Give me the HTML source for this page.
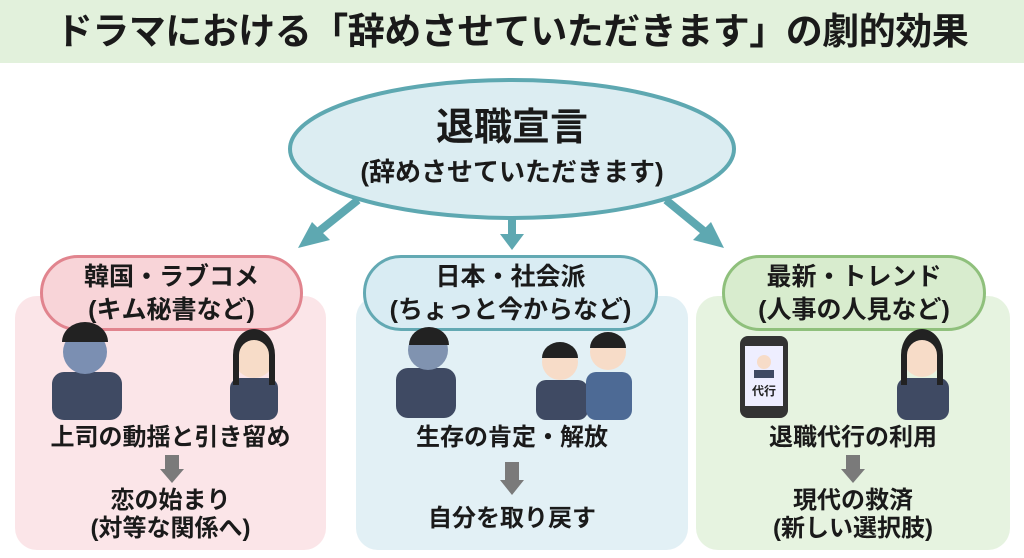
<!DOCTYPE html>
<html><head><meta charset="utf-8"><style>
*{margin:0;padding:0;box-sizing:border-box}
body{width:1024px;height:558px;background:#fff;position:relative;overflow:hidden;font-family:"Liberation Sans","Noto Sans CJK JP",sans-serif;font-weight:bold;color:#1a1a1a}
.hdr{position:absolute;left:0;top:0;width:1024px;height:63px;background:#e2f1dc;text-align:center;font-size:37px;line-height:63px;letter-spacing:-0.5px;white-space:nowrap}
.ab{position:absolute}
.panel{position:absolute;top:296px;height:254px;border-radius:22px}
.pill{position:absolute;top:255px;height:76px;border-radius:38px;border:3px solid;text-align:center;font-size:25px;line-height:33px;padding-top:3px;white-space:nowrap}
.t{position:absolute;text-align:center;font-size:24px;line-height:28px;white-space:nowrap}
</style></head><body>
<div class="hdr">ドラマにおける「辞めさせていただきます」の劇的効果</div>
<svg class="ab" style="left:0;top:0" width="1024" height="558">
<ellipse cx="512" cy="149" rx="222" ry="69" fill="#dcedf2" stroke="#5ea8b1" stroke-width="4"/>
<g stroke="#5ea8b1" stroke-width="8" fill="#5ea8b1">
<line x1="358" y1="200" x2="318" y2="232"/><polygon points="298,248 330,240 312,222" stroke="none"/>
<line x1="512" y1="218" x2="512" y2="235"/><polygon points="500,234 524,234 512,250" stroke="none"/>
<line x1="666" y1="200" x2="705" y2="232"/><polygon points="724,248 693,240 711,222" stroke="none"/>
</g>
</svg>
<div class="t" style="left:290px;width:444px;top:106px;font-size:38px;line-height:44px">退職宣言</div>
<div class="t" style="left:290px;width:444px;top:157px;font-size:26px;line-height:30px">(辞めさせていただきます)</div>

<div class="panel" style="left:15px;width:311px;background:#fbe5e8"></div>
<div class="panel" style="left:356px;width:332px;background:#e2f0f5"></div>
<div class="panel" style="left:696px;width:314px;background:#e6f3e0"></div>

<div class="pill" style="left:40px;width:263px;background:#f8d4d8;border-color:#e1848e">韓国・ラブコメ<br>(キム秘書など)</div>
<div class="pill" style="left:363px;width:295px;background:#d9ecf3;border-color:#63a9b3">日本・社会派<br>(ちょっと今からなど)</div>
<div class="pill" style="left:722px;width:264px;background:#d8ecce;border-color:#8fc07c">最新・トレンド<br>(人事の人見など)</div>

<svg class="ab" style="left:0;top:0" width="1024" height="558">
<g fill="#3f4a63">
<rect x="52" y="372" width="70" height="48" rx="12"/><rect x="230" y="378" width="48" height="42" rx="10"/>
<rect x="396" y="368" width="60" height="50" rx="12"/><rect x="536" y="380" width="52" height="40" rx="10"/><rect x="586" y="372" width="46" height="48" rx="10" fill="#4d6a95"/>
<rect x="897" y="378" width="52" height="42" rx="10"/>
</g>
<g fill="#f7dcc8">
<circle cx="85" cy="352" r="22" fill="#7b8fb2"/><circle cx="254" cy="358" r="20"/><circle cx="428" cy="350" r="20" fill="#8093b0"/>
<circle cx="560" cy="362" r="18"/><circle cx="608" cy="352" r="18"/><circle cx="922" cy="358" r="19"/>
</g>
<g fill="#222"><path d="M62 342a23 20 0 0 1 46 0z"/><path d="M233 355a21 26 0 0 1 42 0v30h-6v-30a15 15 0 0 0-30 0v30h-6z"/><path d="M409 345a20 18 0 0 1 40 0z"/><path d="M542 358a18 16 0 0 1 36 0z"/><path d="M590 348a18 16 0 0 1 36 0z"/><path d="M901 355a21 26 0 0 1 42 0v30h-6v-30a15 15 0 0 0-30 0v30h-6z"/></g>
<rect x="740" y="336" width="48" height="82" rx="8" fill="#333"/><rect x="745" y="346" width="38" height="60" fill="#eef"/>
<circle cx="764" cy="362" r="7" fill="#f7dcc8"/><rect x="754" y="370" width="20" height="8" fill="#3f4a63"/>
<text x="764" y="395" font-size="12" text-anchor="middle" font-family="Liberation Sans,Noto Sans CJK JP,sans-serif" font-weight="bold" fill="#222">代行</text>
<g fill="#7a7a7a">
<rect x="165" y="455" width="14" height="14"/><polygon points="160,469 184,469 172,483"/>
<rect x="505" y="462" width="14" height="18"/><polygon points="500,480 524,480 512,495"/>
<rect x="846" y="455" width="14" height="14"/><polygon points="841,469 865,469 853,483"/>
</g>
</svg>

<div class="t" style="left:15px;width:311px;top:424px">上司の動揺と引き留め</div>
<div class="t" style="left:15px;width:311px;top:487px">恋の始まり</div>
<div class="t" style="left:15px;width:311px;top:515px">(対等な関係へ)</div>
<div class="t" style="left:356px;width:312px;top:424px">生存の肯定・解放</div>
<div class="t" style="left:356px;width:312px;top:505px">自分を取り戻す</div>
<div class="t" style="left:696px;width:314px;top:424px">退職代行の利用</div>
<div class="t" style="left:696px;width:314px;top:487px">現代の救済</div>
<div class="t" style="left:696px;width:314px;top:515px">(新しい選択肢)</div>
</body></html>
